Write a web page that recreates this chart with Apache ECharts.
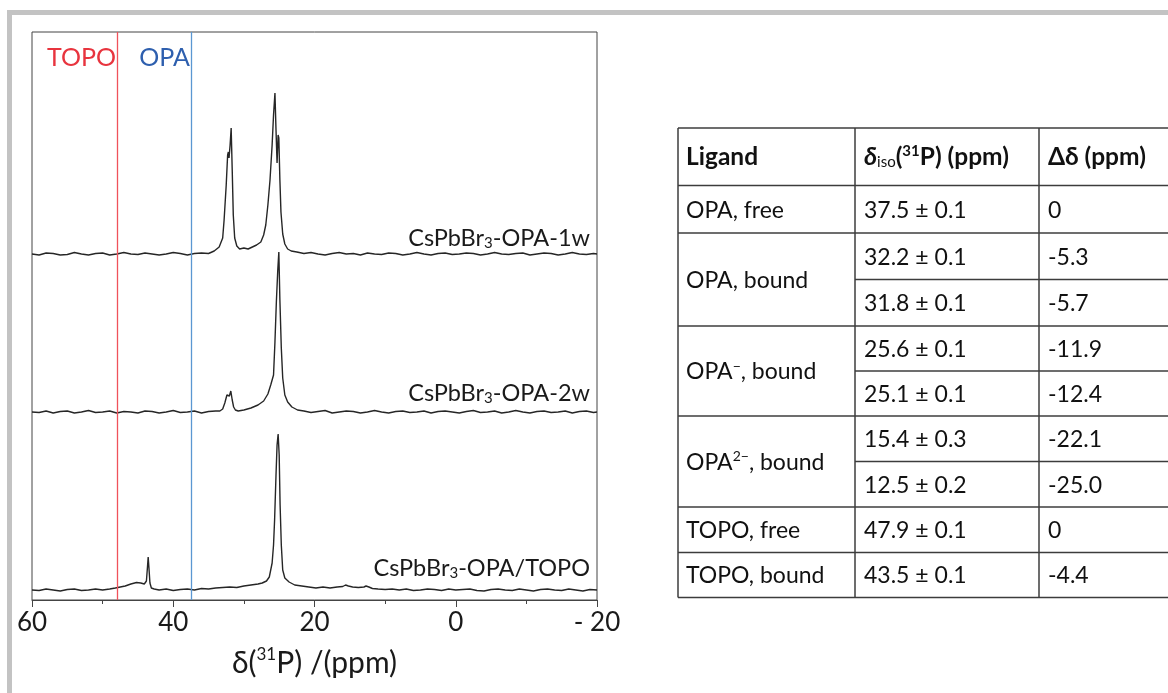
<!DOCTYPE html>
<html><head><meta charset="utf-8">
<script src="https://cdn.jsdelivr.net/npm/echarts@6/dist/echarts.min.js"></script>
<style>html,body{margin:0;padding:0;background:#fff}#c{width:1168px;height:693px}</style>
</head><body><div id="c"></div>
<script>
// ---- data: [ppm, intensity (arb. units)] ----
const trace1 = [[60,346],[59,345],[58,347],[57,346.5],[56,345],[55,345.5],[54,347.5],[53,346],[52,345],[51,346.5],[50,347],[49,345],[48,346],[47,347.5],[46,346],[45,345.5],[44,347],[43,346],[42,345],[41,346],[40,347.5],[39,346.5],[38,345],[37,346.5],[36,347],[35,346.5],[34.2,349],[33.5,353],[33.0,362],[32.8,380],[32.5,415],[32.3,445],[32.2,448],[32.1,442],[31.95,455],[31.8,472],[31.65,430],[31.5,385],[31.3,362],[31.0,354],[30.6,351],[30.0,352],[29.4,351],[28.8,353],[28.2,355],[27.6,358],[27.2,365],[26.9,375],[26.6,395],[26.3,420],[26.0,455],[25.8,485],[25.6,507],[25.45,470],[25.3,437],[25.15,465],[25.05,462],[24.9,420],[24.75,388],[24.5,366],[24.2,356],[23.8,351],[23.3,349],[22.5,348],[21.5,346.5],[20.5,347.5],[19.5,346],[18.5,345],[17.5,346.5],[16.5,347.5],[15.5,346],[14.5,346.5],[13.5,345],[12.5,347],[11.5,346],[10.5,345.5],[9.5,347],[8.5,346.5],[7.5,345],[6.5,346],[5.5,347.5],[4.5,346],[3.5,345],[2.5,346.5],[1.5,347],[0.5,345.5],[-0.5,346],[-1.5,347],[-2.5,346.5],[-3.5,345],[-4.5,346],[-5.5,347.5],[-6.5,346],[-7.5,345.5],[-8.5,346.5],[-9.5,347],[-10.5,345],[-11.5,346],[-12.5,347],[-13.5,346.5],[-14.5,345],[-15.5,346],[-16.5,347.5],[-17.5,346],[-18.5,345.5],[-19.5,346.5],[-20,346]];
const trace2 = [[60,188],[59,187.5],[58,189],[57,187],[56,188.5],[55,189],[54,187],[53,188],[52,189.5],[51,187.5],[50,188],[49,189],[48,187],[47,188.5],[46,188],[45,187],[44,189],[43,188.5],[42,187],[41,188],[40,189.5],[39,187.5],[38,188],[37,189],[36,187],[35,188.5],[34,189],[33.4,189],[33.0,191],[32.7,197],[32.4,205],[32.2,203],[32.05,204],[31.85,209],[31.65,200],[31.45,193],[31.2,190],[30.8,189],[30.0,190],[29.0,192],[28.0,195],[27.2,199],[26.6,206],[26.2,215],[25.8,225],[25.6,258],[25.4,298],[25.2,330],[25.05,348],[24.9,300],[24.7,252],[24.5,222],[24.2,205],[23.8,198],[23.2,193],[22.4,190],[21.5,189],[20.5,187.5],[19.5,188.5],[18.5,189.5],[17.5,187],[16.5,188],[15.5,189],[14.5,188.5],[13.5,187],[12.5,188],[11.5,189.5],[10.5,188],[9.5,187],[8.5,188.5],[7.5,189],[6.5,187.5],[5.5,188],[4.5,189],[3.5,187],[2.5,188.5],[1.5,189],[0.5,188],[-0.5,187],[-1.5,188.5],[-2.5,189.5],[-3.5,187.5],[-4.5,188],[-5.5,189],[-6.5,187],[-7.5,188],[-8.5,189.5],[-9.5,188],[-10.5,187],[-11.5,188.5],[-12.5,189],[-13.5,187.5],[-14.5,188],[-15.5,189],[-16.5,187],[-17.5,188.5],[-18.5,189],[-19.5,187.5],[-20,188]];
const trace3 = [[60,10],[59,9.5],[58,11],[57,10],[56,9],[55,10.5],[54,11],[53,9.5],[52,10],[51,11],[50,10],[49,11],[48.2,12],[47.5,13],[46.8,14],[46,16],[45.2,17.5],[44.6,17],[44.1,16],[43.8,19],[43.65,33],[43.55,43],[43.45,33],[43.3,17],[43.1,12],[42.7,11],[42,10],[41,11],[40,9.5],[39,10.5],[38,11],[37,10],[36,11.5],[35,11],[34,12],[33,12.5],[32,13],[31,12.5],[30,14],[29,15],[28,16],[27.4,17],[26.8,19],[26.4,23],[26.0,37],[25.8,55],[25.65,80],[25.45,125],[25.3,155],[25.15,166],[25.0,145],[24.87,95],[24.7,55],[24.5,30],[24.2,22],[23.6,18],[22.8,15],[21.8,14],[20.8,13],[19.8,12],[18.8,13],[17.8,12],[16.8,13],[16,13.5],[15.6,15],[15.4,16],[15.2,14],[14.6,13],[13.8,12.5],[13,13],[12.7,14],[12.5,15],[12.3,13],[11.8,11.5],[11,11],[10,10.5],[9,11],[8,10],[7,11],[6,9.5],[5,10],[4,11],[3,10.5],[2,9.5],[1,11],[0,10],[-1,10.5],[-2,11],[-3,9.5],[-4,9],[-5,10.5],[-6,11],[-7,10],[-8,9.5],[-9,11],[-10,10],[-11,9],[-12,10.5],[-13,11],[-14,10],[-15,9.5],[-16,11],[-17,10],[-18,9],[-19,10.5],[-20,10]];
const traceNames = ['CsPbBr{sub|3}-OPA-1w', 'CsPbBr{sub|3}-OPA-2w', 'CsPbBr{sub|3}-OPA/TOPO'];
const refShifts = [47.9, 37.5];
const refNames = ['TOPO', 'OPA'];
const xTicks = [60, 40, 20, 0, -20];

// table
const ligandLabels = ['OPA, free', 'OPA, bound', 'OPA{sup|\u2212}, bound', 'OPA{sup|2\u2212}, bound', 'TOPO, free', 'TOPO, bound'];
const ligandSpans = [1, 2, 2, 2, 1, 1];
const shiftValues = ['37.5 \u00b1 0.1', '32.2 \u00b1 0.1', '31.8 \u00b1 0.1', '25.6 \u00b1 0.1', '25.1 \u00b1 0.1', '15.4 \u00b1 0.3', '12.5 \u00b1 0.2', '47.9 \u00b1 0.1', '43.5 \u00b1 0.1'];
const deltaValues = ['0', '-5.3', '-5.7', '-11.9', '-12.4', '-22.1', '-25.0', '0', '-4.4'];

const FONT = 'Lato, "Open Sans", sans-serif';
const chart = echarts.init(document.getElementById('c'));

const g = [];
// frame
g.push({type:'rect', shape:{x:7, y:10, width:1161, height:5}, style:{fill:'#c3c3c3'}, silent:true});
g.push({type:'rect', shape:{x:7, y:10, width:5, height:683}, style:{fill:'#c3c3c3'}, silent:true});

// ref labels
const refColors = ['#e8343e', '#2e5fae'];
const refLabelX = [116, 190];
refNames.forEach((n, i) => g.push({type:'text', x: refLabelX[i], y: 58, style:{text:n, fill:refColors[i], font:'25px ' + FONT, align:'right', verticalAlign:'middle'}}));

// trace labels
const traceLabelY = [238, 393, 568];
traceNames.forEach((n, i) => g.push({type:'text', x:590, y:traceLabelY[i], style:{text:n, fill:'#1a1a1a', font:'23.5px ' + FONT, align:'right', verticalAlign:'middle', lineHeight:26, rich:{sub:{fontSize:15, lineHeight:14, verticalAlign:'bottom', fontFamily:FONT, fill:'#1a1a1a'}}}}));

// table
const rowB = [185.5, 233, 279.5, 326, 371, 416, 461.5, 507, 552.5, 597.5];
const tTop = 128, colX = [678, 855, 1039], tRight = 1180;
const stroke = {stroke:'#3c3c3c', lineWidth:1.5};
const line = (x1,y1,x2,y2) => g.push({type:'line', shape:{x1,y1,x2,y2}, style:stroke, silent:true});
line(colX[0], tTop, tRight, tTop);
line(colX[0], rowB[0], tRight, rowB[0]);
colX.forEach(x => line(x, tTop, x, rowB[rowB.length-1]));
const tf = '23px ' + FONT, tfb = 'bold 24.5px ' + FONT;
const txt = (x, y, text, font, rich) => g.push({type:'text', x, y, style:{text, font, fill:'#111', align:'left', verticalAlign:'middle', lineHeight:26, rich}});
const hy = (tTop + rowB[0]) / 2;
txt(686, hy, 'Ligand', tfb);
txt(864, hy, '{bi|\u03b4}{sb|iso}{b|(}{sp|31}{b|P) (ppm)}', tfb, {
  bi:{fontStyle:'italic', fontWeight:'bold', fontSize:25, fontFamily:FONT, lineHeight:26, fill:'#111'},
  b:{fontWeight:'bold', fontSize:24.5, fontFamily:FONT, lineHeight:26, fill:'#111'},
  sb:{fontSize:15, fontFamily:FONT, lineHeight:13, verticalAlign:'bottom', fill:'#111'},
  sp:{fontWeight:'bold', fontSize:15, fontFamily:FONT, lineHeight:13, verticalAlign:'top', fill:'#111'}
});
txt(1048, hy, '\u0394\u03b4 (ppm)', tfb);
const supRich = {sup:{fontSize:14, fontFamily:FONT, lineHeight:13, verticalAlign:'top', fill:'#111'}};
let r = 0;
ligandLabels.forEach((lab, i) => {
  const span = ligandSpans[i];
  const y0 = rowB[r], y1 = rowB[r + span];
  txt(686, (y0 + y1) / 2 + 1, lab, tf, supRich);
  for (let k = 0; k < span; k++) {
    const a = rowB[r + k], b = rowB[r + k + 1];
    txt(864, (a + b) / 2 + 1, shiftValues[r + k], tf);
    txt(1048, (a + b) / 2 + 1, deltaValues[r + k], tf);
    if (k < span - 1) line(colX[1], b, tRight, b);
  }
  line(colX[0], y1, tRight, y1);
  r += span;
});

const lineStyle = {color:'#262626', width:1.4};
chart.setOption({
  animation:false,
  grid:{left:32, right:571, top:32, bottom:93, show:true, borderColor:'#444', borderWidth:1},
  xAxis:{type:'value', min:-20, max:60, interval:20, inverse:true,
    axisLine:{lineStyle:{color:'#444', width:1}},
    axisTick:{length:7, lineStyle:{color:'#444'}},
    minorTick:{show:true, splitNumber:2, length:4, lineStyle:{color:'#444'}},
    splitLine:{show:false},
    axisLabel:{fontSize:26, color:'#1a1a1a', margin:10, fontFamily:FONT,
      formatter: v => xTicks.indexOf(v) < 0 ? '' : (v < 0 ? '- ' + Math.abs(v) : '' + v)},
    name:'{a|\u03b4(}{s|31}{a|P) /(ppm)}', nameLocation:'middle', nameGap:46,
    nameTextStyle:{rich:{a:{fontSize:30, fontFamily:FONT, color:'#1a1a1a', lineHeight:34}, s:{fontSize:17, fontFamily:FONT, color:'#1a1a1a', lineHeight:19, verticalAlign:'top'}}}
  },
  yAxis:{type:'value', min:0, max:568, show:false},
  series:[
    {type:'line', data:trace1, showSymbol:false, symbol:'none', lineStyle, z:3,
      markLine:{silent:true, symbol:['none','none'], label:{show:false}, animation:false,
        data: refShifts.map((v, i) => ({xAxis:v, lineStyle:{color: i === 0 ? '#f0525b' : '#5b97d2', width:1.3, type:'solid'}}))}},
    {type:'line', data:trace2, showSymbol:false, symbol:'none', lineStyle, z:3},
    {type:'line', data:trace3, showSymbol:false, symbol:'none', lineStyle, z:3}
  ],
  graphic:g
});
</script></body></html>
